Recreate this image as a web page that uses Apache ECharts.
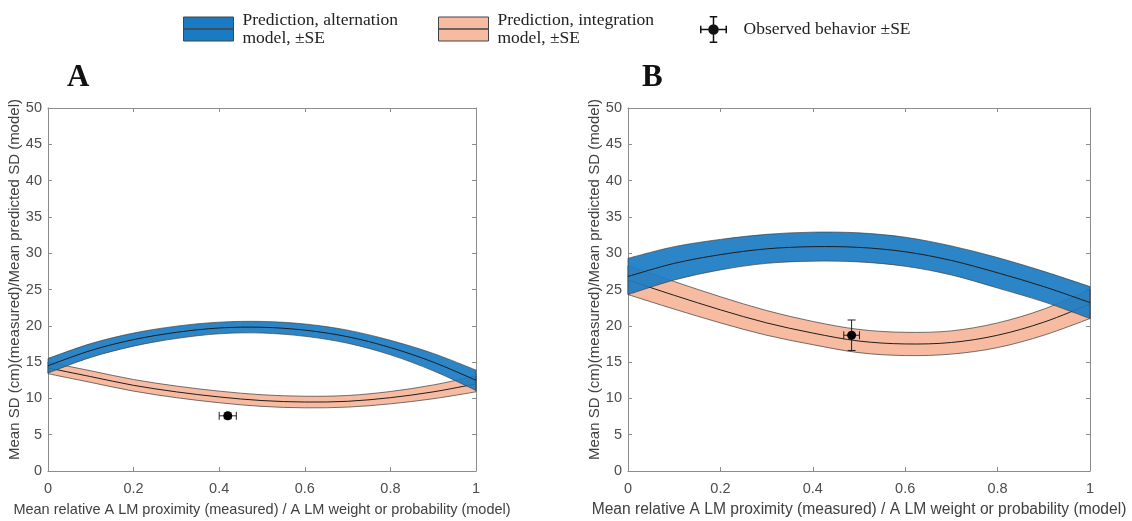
<!DOCTYPE html>
<html>
<head>
<meta charset="utf-8">
<script src="https://cdn.jsdelivr.net/npm/echarts@6/dist/echarts.min.js"></script>
<style>
  html, body { margin: 0; padding: 0; background: #fff; }
  #chart { width: 1132px; height: 521px; }
</style>
</head>
<body>
<div id="chart"></div>
<script>
// x positions (A LM weight / proximity)
const xs = [0, 0.1, 0.2, 0.3, 0.4, 0.5, 0.6, 0.7, 0.8, 0.9, 1];

// panel A
const altMeanA = [14.5, 16.6, 18.1, 19.1, 19.7, 19.8, 19.4, 18.5, 17.0, 15.0, 12.5];
const altSeA   = [1.0, 0.95, 0.9, 0.85, 0.8, 0.8, 0.85, 0.9, 1.0, 1.2, 1.4];
const intMeanA = [14.2, 13.0, 11.8, 10.9, 10.2, 9.7, 9.5, 9.6, 10.1, 10.9, 12.0];
const intSeA   = [0.8, 0.8, 0.8, 0.8, 0.8, 0.8, 0.8, 0.8, 0.85, 0.95, 1.1];
const obsA     = [0.42, 7.6];
const obsErrA  = [0.02, 0.4];

// panel B
const altMeanB = [26.8, 28.6, 29.8, 30.6, 30.9, 30.8, 30.2, 29.0, 27.3, 25.4, 23.2];
const altSeB   = [2.5, 2.3, 2.1, 2.0, 2.0, 2.0, 2.0, 2.0, 2.1, 2.1, 2.2];
const intMeanB = [26.3, 24.2, 22.2, 20.4, 19.0, 17.9, 17.5, 17.7, 18.7, 20.5, 23.0];
const intSeB   = [2.0, 1.9, 1.8, 1.7, 1.6, 1.6, 1.6, 1.6, 1.7, 1.8, 2.0];
const obsB     = [0.484, 18.7];
const obsErrB  = [0.017, 2.1];

const xTicks = { min: 0, max: 1, interval: 0.2 };
const yTicks = { min: 0, max: 50, interval: 5 };

const ALT_NAME = 'Prediction, alternation\nmodel, \u00b1SE';
const INT_NAME = 'Prediction, integration\nmodel, \u00b1SE';
const OBS_NAME = 'Observed behavior \u00b1SE';

const BLUE = '#1a7bc2';
const ORANGE = '#f7bba2';

// catmull-rom through pixel points, as svg path
function curvePath(pts, move) {
  let d = (move ? 'M' : 'L') + pts[0][0] + ',' + pts[0][1];
  for (let i = 0; i < pts.length - 1; i++) {
    const p0 = pts[Math.max(i - 1, 0)];
    const p1 = pts[i];
    const p2 = pts[i + 1];
    const p3 = pts[Math.min(i + 2, pts.length - 1)];
    const c1 = [p1[0] + (p2[0] - p0[0]) / 6, p1[1] + (p2[1] - p0[1]) / 6];
    const c2 = [p2[0] - (p3[0] - p1[0]) / 6, p2[1] - (p3[1] - p1[1]) / 6];
    d += 'C' + c1 + ' ' + c2 + ' ' + p2;
  }
  return d;
}

function bandSeries(name, panel, mean, se, color, opacity) {
  return {
    type: 'custom',
    name: name,
    xAxisIndex: panel * 2,
    yAxisIndex: panel * 2,
    itemStyle: { color: color },
    silent: true,
    data: xs.map((x, i) => [x, mean[i]]),
    encode: { x: 0, y: 1 },
    renderItem: function (params, api) {
      if (params.dataIndex !== 0) return;
      const up = xs.map((x, i) => api.coord([x, mean[i] + se[i]]));
      const lo = xs.map((x, i) => api.coord([x, mean[i] - se[i]])).reverse();
      const mid = xs.map((x, i) => api.coord([x, mean[i]]));
      return {
        type: 'group',
        children: [
          {
            type: 'path',
            shape: { pathData: curvePath(up, true) + curvePath(lo, false) + 'Z' },
            style: { fill: color, opacity: opacity, stroke: '#3a3a3a', lineWidth: 0.7 }
          },
          {
            type: 'path',
            shape: { pathData: curvePath(mid, true) },
            style: { fill: 'none', stroke: '#1e1e1e', lineWidth: 1 }
          }
        ]
      };
    }
  };
}

function obsSeries(panel, pt, err) {
  return {
    type: 'custom',
    name: OBS_NAME,
    xAxisIndex: panel * 2,
    yAxisIndex: panel * 2,
    itemStyle: { color: '#000' },
    silent: true,
    data: [[pt[0], pt[1], err[0], err[1]]],
    encode: { x: 0, y: 1 },
    renderItem: function (params, api) {
      const x = api.value(0), y = api.value(1), ex = api.value(2), ey = api.value(3);
      const c = api.coord([x, y]);
      const l = api.coord([x - ex, y]), r = api.coord([x + ex, y]);
      const t = api.coord([x, y + ey]), b = api.coord([x, y - ey]);
      const cap = 4;
      const ln = { stroke: '#222', lineWidth: 1 };
      return {
        type: 'group',
        children: [
          { type: 'line', shape: { x1: l[0], y1: l[1], x2: r[0], y2: r[1] }, style: ln },
          { type: 'line', shape: { x1: t[0], y1: t[1], x2: b[0], y2: b[1] }, style: ln },
          { type: 'line', shape: { x1: l[0], y1: l[1] - cap, x2: l[0], y2: l[1] + cap }, style: ln },
          { type: 'line', shape: { x1: r[0], y1: r[1] - cap, x2: r[0], y2: r[1] + cap }, style: ln },
          { type: 'line', shape: { x1: t[0] - cap, y1: t[1], x2: t[0] + cap, y2: t[1] }, style: ln },
          { type: 'line', shape: { x1: b[0] - cap, y1: b[1], x2: b[0] + cap, y2: b[1] }, style: ln },
          { type: 'circle', shape: { cx: c[0], cy: c[1], r: 4.5 }, style: { fill: '#000' } }
        ]
      };
    }
  };
}

// 两个面板的绘图区位置，关掉 v6 的自动避让
const grids = [
  { left: 48, top: 108, width: 428, height: 363, outerBoundsMode: 'none', containLabel: false },
  { left: 628, top: 108, width: 462, height: 363, outerBoundsMode: 'none', containLabel: false }
];
// B 面板在原图里横向略宽，横轴标题也跟着宽一点
const xNameSize = [14.5, 15.6];

const axisLine = { show: true, onZero: false, lineStyle: { color: '#8c8c8c', width: 1 } };
const tickIn = { show: true, inside: true, length: 4, lineStyle: { color: '#8c8c8c' } };
const labelStyle = { color: '#4d4d4d', fontSize: 14.5, fontFamily: 'Liberation Sans' };
const nameStyle = { color: '#404040', fontFamily: 'Liberation Sans' };

const xAxes = [];
const yAxes = [];
[0, 1].forEach(g => {
  xAxes.push({
    type: 'value', gridIndex: g, position: 'bottom', ...xTicks,
    axisLine, axisTick: tickIn, splitLine: { show: false },
    axisLabel: { ...labelStyle, margin: 10 },
    name: 'Mean relative A LM proximity (measured) / A LM weight or probability (model)',
    nameLocation: 'middle', nameGap: 31, nameTextStyle: { ...nameStyle, fontSize: xNameSize[g] }
  });
  xAxes.push({
    type: 'value', gridIndex: g, position: 'top', ...xTicks,
    axisLine, axisTick: tickIn, splitLine: { show: false }, axisLabel: { show: false }
  });
  yAxes.push({
    type: 'value', gridIndex: g, position: 'left', ...yTicks,
    axisLine, axisTick: tickIn, splitLine: { show: false },
    axisLabel: { ...labelStyle, margin: 6 },
    name: 'Mean SD (cm)(measured)/Mean predicted SD (model)',
    nameLocation: 'middle', nameGap: 26,
    nameTextStyle: { ...nameStyle, fontSize: 15, padding: [0, 0, 0, 20] }
  });
  yAxes.push({
    type: 'value', gridIndex: g, position: 'right', ...yTicks,
    axisLine, axisTick: tickIn, splitLine: { show: false }, axisLabel: { show: false }
  });
});

const legendText = { fontFamily: 'Liberation Serif', fontSize: 17.5, color: '#222', lineHeight: 18 };
const bandIcon = 'path://M0,0H50V12H0Z M0,12H50V24H0Z';
const obsIcon = 'path://M13,20A7,7 0 1,1 27,20A7,7 0 1,1 13,20Z' +
  'M19,3H21V37H19Z M3,19H37V21H3Z' +
  'M15,2H25V4H15Z M15,36H25V38H15Z M2,15H4V25H2Z M36,15H38V25H36Z';

function legendAt(left, name, icon, color) {
  return {
    left: left, top: 6, itemWidth: 50, itemHeight: 25, itemGap: 0,
    textStyle: { ...legendText, padding: [0, 0, 0, 4] }, selectedMode: false,
    data: [{ name: name, icon: icon, itemStyle: { color: color, borderColor: '#444', borderWidth: 1 } }]
  };
}

const chart = echarts.init(document.getElementById('chart'), null, { renderer: 'canvas' });
chart.setOption({
  animation: false,
  backgroundColor: '#fff',
  title: [
    { text: 'A', left: 62, top: 57, textStyle: { fontFamily: 'Liberation Serif', fontWeight: 'bold', fontSize: 31, color: '#111' } },
    { text: 'B', left: 637, top: 57, textStyle: { fontFamily: 'Liberation Serif', fontWeight: 'bold', fontSize: 31, color: '#111' } }
  ],
  legend: [
    legendAt(178, ALT_NAME, bandIcon, BLUE),
    legendAt(433, INT_NAME, bandIcon, ORANGE),
    {
      left: 695, top: 11, itemWidth: 50, itemHeight: 27, itemGap: 0,
      textStyle: legendText, selectedMode: false,
      data: [{ name: OBS_NAME, icon: obsIcon, itemStyle: { color: '#111', borderWidth: 0 } }]
    }
  ],
  grid: grids,
  xAxis: xAxes,
  yAxis: yAxes,
  series: [
    bandSeries(INT_NAME, 0, intMeanA, intSeA, ORANGE, 1),
    bandSeries(ALT_NAME, 0, altMeanA, altSeA, BLUE, 0.92),
    obsSeries(0, obsA, obsErrA),
    bandSeries(INT_NAME, 1, intMeanB, intSeB, ORANGE, 1),
    bandSeries(ALT_NAME, 1, altMeanB, altSeB, BLUE, 0.92),
    obsSeries(1, obsB, obsErrB)
  ]
});
</script>
</body>
</html>
